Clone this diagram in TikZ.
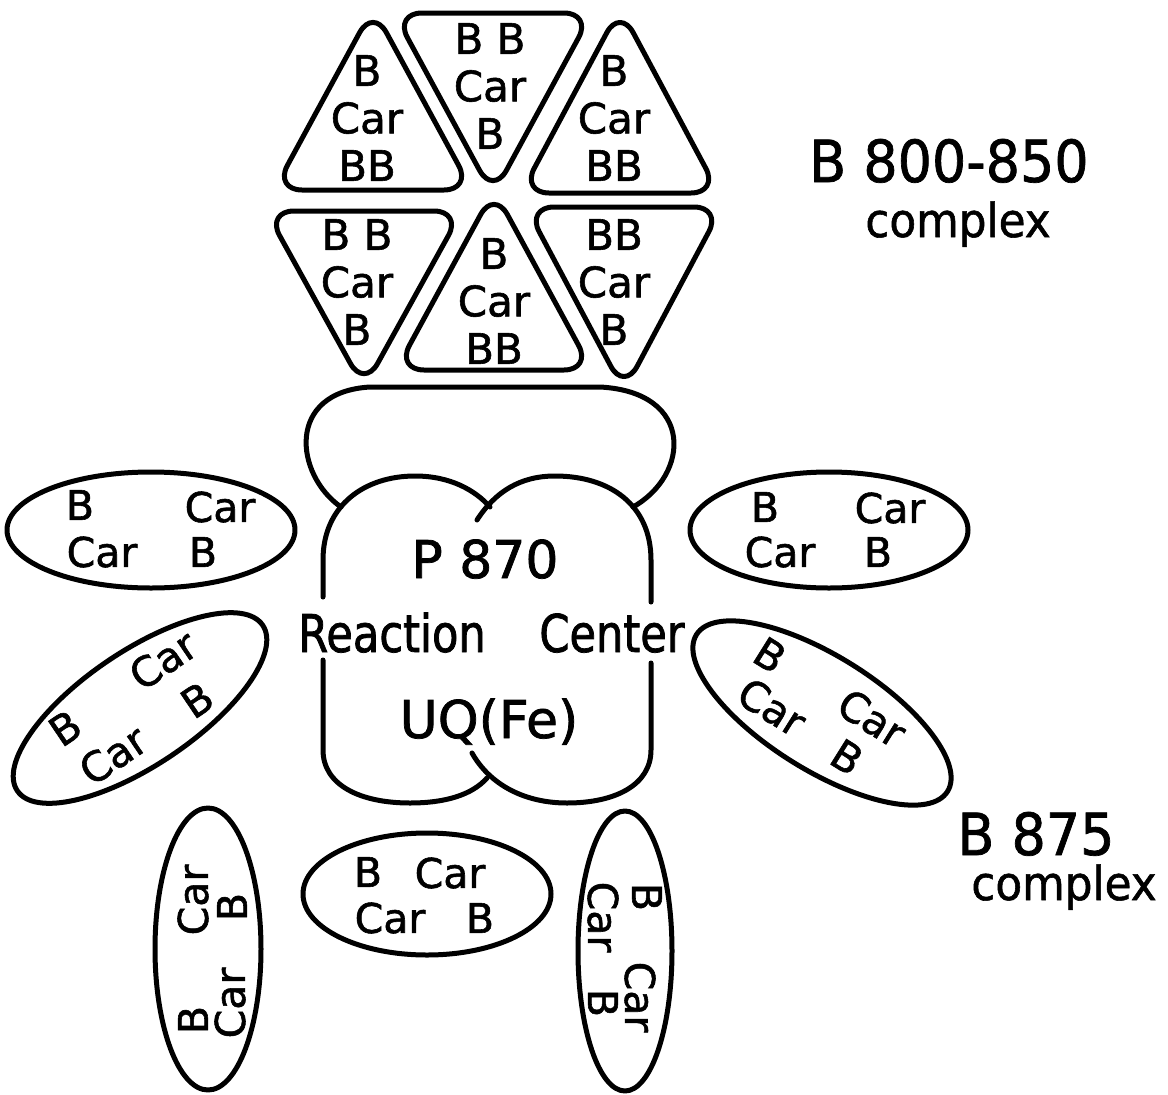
\documentclass[tikz,border=0pt]{standalone}
\usepackage{fontspec}
\newfontfamily\lf[FakeBold=1.4]{DejaVu Sans}
\newfontfamily\lfn[FakeStretch=0.83,FakeBold=1.4]{DejaVu Sans}
\newfontfamily\lfl[FakeStretch=0.93,FakeBold=1.2]{DejaVu Sans}
\begin{document}
\begin{tikzpicture}[x=1pt,y=-1pt,
  shp/.style={line width=5pt, line join=round, line cap=round},
  tri/.style={shp, rounded corners=28pt},
  tritxt/.style={inner sep=0pt, font=\lf\fontsize{42}{47.5}\selectfont, align=center},
  wd/.style={inner sep=0pt, font=\lf\fontsize{41}{47}\selectfont},
  rcw/.style={inner sep=0pt, anchor=base, font=\lf\fontsize{52}{60}\selectfont},
  rcn/.style={inner sep=0pt, anchor=base, font=\lfn\fontsize{52}{60}\selectfont},
  labw/.style={inner sep=0pt, anchor=base, font=\lfl\fontsize{58}{64}\selectfont},
  labs/.style={inner sep=0pt, anchor=base, font=\lfl\fontsize{47}{50}\selectfont}]
\useasboundingbox (0,0) rectangle (1168,1095);

% ---- B800-850 complex: six rounded triangles ----
\draw[tri] (274,190) -- (472,190) -- (373,8) -- cycle;
\draw[tri] (394,13) -- (592,13) -- (493,195) -- cycle;
\draw[tri] (521,193) -- (719,193) -- (620,8) -- cycle;
\draw[tri] (266,211) -- (462,211) -- (364,388) -- cycle;
\draw[tri] (396,370) -- (592,370) -- (494,190) -- cycle;
\draw[tri] (526,207) -- (722,207) -- (624,391) -- cycle;
\node[tritxt] (t1) at (367,118) {B\\Car\\BB};
\node[tritxt] (t2) at (490,86) {B B\\Car\\B};
\node[tritxt] (t3) at (614,118) {B\\Car\\BB};
\node[tritxt] (t4) at (357,282) {B B\\Car\\B};
\node[tritxt] (t5) at (494,301) {B\\Car\\BB};
\node[tritxt] (t6) at (614,282) {BB\\Car\\B};

% ---- reaction centre ----
\draw[shp] (341,507) .. controls (295,475) and (285,392) .. (370,387) -- (600,387)
  .. controls (695,392) and (690,475) .. (633,507);
\draw[shp] (323,597) -- (323,560) .. controls (323,505) and (365,476) .. (415,476)
  .. controls (450,476) and (475,490) .. (490,507);
\draw[shp] (477,520) .. controls (495,492) and (520,476) .. (555,476)
  .. controls (610,476) and (651,505) .. (651,560) -- (651,602);
\draw[shp] (651,663) -- (651,750) .. controls (651,785) and (615,803) .. (567,803)
  .. controls (525,803) and (490,785) .. (472,753);
\draw[shp] (487,778) .. controls (472,795) and (445,803) .. (410,803)
  .. controls (360,803) and (323,785) .. (323,750) -- (323,660);
\node[rcw] (p870) at (485,578) {P 870};
\node[rcn] (reac) at (392,652) {Reaction};
\node[rcn] (cent) at (612,652) {Center};
\node[rcw] (uq) at (489,738) {UQ(Fe)};

% ---- B875 complex: ellipses ----
\draw[shp] (151,530) ellipse [x radius=144pt, y radius=58pt];
\draw[shp] (829,530) ellipse [x radius=139pt, y radius=58pt];
\draw[shp, shift={(140,708)}, rotate=34] (0,0) ellipse [x radius=148pt, y radius=57pt];
\draw[shp, shift={(822,713)}, rotate=-32] (0,0) ellipse [x radius=148pt, y radius=57pt];
\draw[shp] (427,894) ellipse [x radius=124pt, y radius=61pt];
\draw[shp] (208,949) ellipse [x radius=53pt, y radius=141pt];
\draw[shp] (625,951) ellipse [x radius=47pt, y radius=140pt];

\node[wd] (e1a) at (80,505) {B};
\node[wd] (e1b) at (220,507) {Car};
\node[wd] (e1c) at (102,552) {Car};
\node[wd] (e1d) at (203,552) {B};

\node[wd] (e3a) at (765,507) {B};
\node[wd] (e3b) at (890,508) {Car};
\node[wd] (e3c) at (780,552) {Car};
\node[wd] (e3d) at (878,552) {B};

\node[wd, rotate=34] (e2a) at (65,728) {B};
\node[wd, rotate=34] (e2b) at (163,660) {Car};
\node[wd, rotate=34] (e2c) at (113,755) {Car};
\node[wd, rotate=34] (e2d) at (197,700) {B};

\node[wd, rotate=-32] (e4a) at (770,655) {B};
\node[wd, rotate=-32] (e4b) at (872,718) {Car};
\node[wd, rotate=-32] (e4c) at (772,707) {Car};
\node[wd, rotate=-32] (e4d) at (847,757) {B};

\node[wd] (e5a) at (368,872) {B};
\node[wd] (e5b) at (450,873) {Car};
\node[wd] (e5c) at (390,918) {Car};
\node[wd] (e5d) at (480,918) {B};

\node[wd, rotate=90] (e6a) at (193,1020) {B};
\node[wd, rotate=90] (e6b) at (193,900) {Car};
\node[wd, rotate=90] (e6c) at (230,1003) {Car};
\node[wd, rotate=90] (e6d) at (232,907) {B};

\node[wd, rotate=-90] (e7a) at (647,897) {B};
\node[wd, rotate=-90] (e7b) at (640,997) {Car};
\node[wd, rotate=-90] (e7c) at (603,917) {Car};
\node[wd, rotate=-90] (e7d) at (603,1003) {B};

% ---- labels ----
\node[labw] (lab1) at (949,182) {B 800-850};
\node[labs] (lab1b) at (958,237) {complex};
\node[labw] (lab2) at (1036,855) {B 875};
\node[labs] (lab2b) at (1064,900) {complex};
\end{tikzpicture}
\end{document}
